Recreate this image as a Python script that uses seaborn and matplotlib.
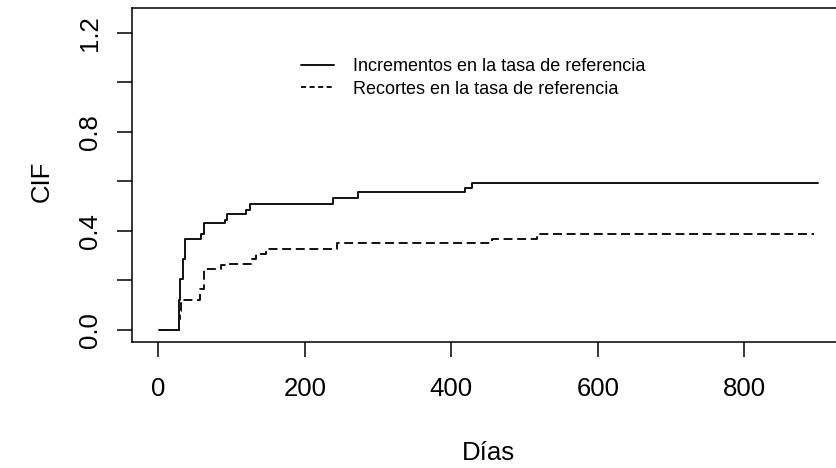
import matplotlib
matplotlib.use("Agg")
import matplotlib.pyplot as plt
from matplotlib.lines import Line2D
import seaborn as sns
import pandas as pd

# Data
dias_inc = [1, 27.7, 29.1, 33.6, 35.9, 58.8, 61.9, 90.6, 93.8, 119.3, 125.7, 238.6, 272, 418.6, 427.8, 900]
cif_inc = [0, 0.119, 0.207, 0.288, 0.369, 0.389, 0.430, 0.443, 0.470, 0.486, 0.508, 0.531, 0.555, 0.572, 0.594, 0.594]

dias_rec = [1, 28.2, 29.8, 31.4, 56.4, 61.9, 86.1, 93.0, 127.1, 133.9, 147.6, 244, 455, 516.6, 895]
cif_rec = [0, 0.045, 0.078, 0.122, 0.166, 0.247, 0.261, 0.268, 0.288, 0.308, 0.328, 0.349, 0.366, 0.389, 0.389]

labels = ["Incrementos en la tasa de referencia", "Recortes en la tasa de referencia"]
xticks = [0, 200, 400, 600, 800]
yticks = [0.0, 0.2, 0.4, 0.6, 0.8, 1.0, 1.2]
ytick_labels = ["0.0", "", "0.4", "", "0.8", "", "1.2"]

sns.set_style("white")
plt.rcParams['font.family'] = ['Liberation Sans', 'DejaVu Sans']
plt.rcParams['text.color'] = 'black'
plt.rcParams['axes.labelcolor'] = 'black'
plt.rcParams['xtick.color'] = 'black'
plt.rcParams['ytick.color'] = 'black'

W, H = 836, 468
fig = plt.figure(figsize=(W / 100, H / 100), dpi=100)
ax_l, ax_r, ax_t, ax_b = 132, 844, 8, 342.3
ax = fig.add_axes([ax_l / W, 1 - ax_b / H, (ax_r - ax_l) / W, (ax_b - ax_t) / H])

col = "#111111"
df_inc = pd.DataFrame({"dias": dias_inc, "cif": cif_inc})
df_rec = pd.DataFrame({"dias": dias_rec, "cif": cif_rec})
sns.lineplot(data=df_inc, x="dias", y="cif", ax=ax, drawstyle="steps-post",
             color=col, lw=1.4, errorbar=None, estimator=None)
sns.lineplot(data=df_rec, x="dias", y="cif", ax=ax, drawstyle="steps-post",
             color=col, lw=1.4, errorbar=None, estimator=None, dashes=False)
ax.lines[1].set_dashes((4.6, 2.4))

ax.set_xlim(-36, 936)
ax.set_ylim(-0.05, 1.30)
ax.set_xticks(xticks)
ax.set_xticklabels([str(v) for v in xticks])
ax.set_yticks(yticks)
ax.set_yticklabels(ytick_labels, rotation=90, va="center")

for s in ax.spines.values():
    s.set_visible(True)
    s.set_color("black")
    s.set_linewidth(1.1)

ax.tick_params(axis="x", direction="out", length=10.8, width=1.1, color="black",
               labelsize=18.5, pad=14, bottom=True, labelcolor="black")
ax.tick_params(axis="y", direction="out", length=10.8, width=1.1, color="black",
               labelsize=18.5, pad=11, left=True, labelcolor="black")

ax.set_xlabel("Días", fontsize=18.5, va="center", color="black")
ax.xaxis.set_label_coords((488 - ax_l) / (ax_r - ax_l), (ax_b - 453) / (ax_b - ax_t))
ax.set_ylabel("CIF", fontsize=18.5, va="center", color="black")
ax.yaxis.set_label_coords((42 - ax_l) / (ax_r - ax_l), (ax_b - 181) / (ax_b - ax_t))

handles = [Line2D([], [], color=col, lw=1.4),
           Line2D([], [], color=col, lw=1.4, dashes=(2.6, 1.8))]
fs = 13
leg = ax.legend(handles, labels, loc="upper left", frameon=False, fontsize=fs,
                handlelength=1.85, handletextpad=1.05, labelspacing=0.32,
                borderpad=0, borderaxespad=0,
                bbox_to_anchor=((301 - ax_l) / (ax_r - ax_l), (ax_b - 58) / (ax_b - ax_t)))
for t in leg.get_texts():
    t.set_color("black")

fig.savefig("out.png", dpi=100)
